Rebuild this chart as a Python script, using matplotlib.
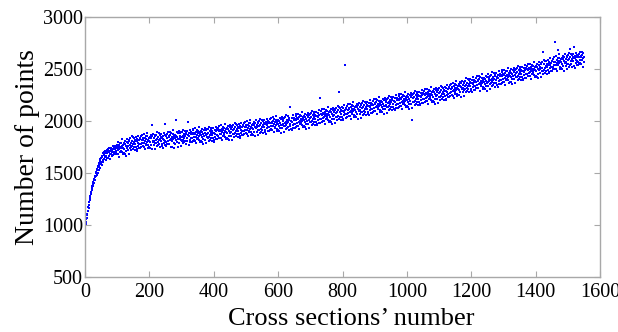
import numpy as np
import matplotlib
matplotlib.use("Agg")
import matplotlib.pyplot as plt

# Number of points per cross section (sections 1..1550), read row by row (10 per row)
points_rows = [
    [985, 1010, 1025, 1060, 1068, 1098, 1105, 1138, 1130, 1172],
    [1190, 1165, 1222, 1240, 1238, 1282, 1255, 1310, 1322, 1300],
    [1352, 1372, 1340, 1398, 1410, 1372, 1432, 1445, 1402, 1462],
    [1470, 1435, 1498, 1468, 1512, 1530, 1478, 1540, 1555, 1502],
    [1566, 1580, 1530, 1600, 1562, 1615, 1548, 1630, 1590, 1640],
    [1605, 1655, 1578, 1668, 1622, 1688, 1610, 1672, 1702, 1635],
    [1692, 1655, 1715, 1625, 1708, 1662, 1722, 1640, 1696, 1718],
    [1648, 1708, 1728, 1665, 1700, 1738, 1635, 1712, 1680, 1730],
    [1685, 1745, 1660, 1725, 1700, 1758, 1672, 1732, 1692, 1750],
    [1702, 1680, 1762, 1730, 1690, 1750, 1708, 1772, 1684, 1740],
    [1747, 1679, 1800, 1718, 1769, 1656, 1734, 1787, 1698, 1752],
    [1716, 1787, 1736, 1823, 1700, 1755, 1680, 1774, 1745, 1688],
    [1788, 1735, 1684, 1778, 1810, 1714, 1762, 1668, 1800, 1745],
    [1752, 1829, 1720, 1785, 1761, 1807, 1685, 1817, 1740, 1774],
    [1832, 1748, 1793, 1720, 1853, 1758, 1811, 1730, 1777, 1843],
    [1749, 1795, 1837, 1718, 1816, 1779, 1847, 1753, 1804, 1731],
    [1804, 1715, 1830, 1793, 1764, 1860, 1740, 1815, 1776, 1836],
    [1738, 1826, 1775, 1852, 1751, 1816, 1868, 1787, 1756, 1832],
    [1819, 1751, 1872, 1790, 1841, 1728, 1806, 1859, 1770, 1824],
    [1781, 1852, 1801, 1888, 1765, 1820, 1745, 1839, 1810, 1753],
    [1847, 1794, 1743, 1837, 1869, 1773, 1962, 1727, 1859, 1804],
    [1800, 1877, 1768, 1833, 1809, 1855, 1733, 1865, 1788, 1822],
    [1869, 1785, 1830, 1757, 1890, 1795, 1848, 1767, 1814, 1880],
    [1778, 1824, 1866, 1747, 1845, 1808, 1876, 1782, 1833, 1760],
    [1831, 1742, 1857, 1820, 1791, 1887, 1767, 1975, 1803, 1863],
    [1763, 1851, 1800, 1877, 1776, 1841, 1893, 1812, 1781, 1857],
    [1843, 1775, 1896, 1814, 1865, 1752, 1830, 1883, 1748, 1848],
    [1804, 1875, 1824, 1911, 1788, 1843, 1745, 1862, 1833, 1776],
    [1870, 1817, 2008, 1860, 1892, 1796, 1844, 1750, 1882, 1827],
    [1825, 1902, 1793, 1858, 1834, 1880, 1758, 1890, 1813, 1847],
    [1896, 1812, 1857, 1784, 1917, 1822, 1875, 1794, 1841, 1907],
    [1807, 1853, 1895, 1776, 1874, 1837, 1905, 1811, 1862, 1990],
    [1862, 1773, 1888, 1851, 1822, 1918, 1798, 1873, 1834, 1894],
    [1795, 1883, 1832, 1909, 1808, 1873, 1925, 1844, 1813, 1889],
    [1875, 1807, 1928, 1846, 1897, 1784, 1862, 1915, 1826, 1880],
    [1835, 1906, 1855, 1942, 1819, 1874, 1799, 1893, 1864, 1807],
    [1900, 1847, 1796, 1890, 1922, 1826, 1874, 1780, 1912, 1857],
    [1854, 1931, 1822, 1887, 1863, 1909, 1787, 1919, 1842, 1876],
    [1924, 1840, 1885, 1812, 1945, 1850, 1903, 1822, 1869, 1935],
    [1834, 1880, 1922, 1803, 1901, 1864, 1932, 1838, 1889, 1816],
    [1889, 1800, 1915, 1878, 1849, 1945, 1825, 1900, 1861, 1921],
    [1823, 1911, 1860, 1937, 1836, 1901, 1953, 1872, 1841, 1917],
    [1904, 1836, 1957, 1875, 1926, 1813, 1891, 1944, 1855, 1909],
    [1866, 1937, 1886, 1973, 1850, 1905, 1830, 1924, 1895, 1838],
    [1933, 1880, 1829, 1923, 1955, 1859, 1907, 1813, 1945, 1890],
    [1889, 1966, 1857, 1922, 1898, 1944, 1822, 1954, 1877, 1911],
    [1961, 1877, 1922, 1849, 1982, 1887, 1940, 1859, 1906, 1972],
    [1873, 1919, 1961, 1842, 1940, 1903, 1971, 1877, 1928, 1855],
    [1929, 1840, 1955, 1918, 1889, 1985, 1865, 1940, 1901, 1961],
    [1863, 1951, 1900, 1977, 1876, 1941, 1993, 1912, 1881, 1957],
    [1944, 1876, 1997, 1915, 1966, 1853, 1931, 1984, 1895, 1949],
    [1906, 1977, 1926, 2013, 1890, 1945, 1870, 1964, 1935, 1878],
    [1973, 1920, 1869, 1963, 1995, 1899, 1947, 1853, 1985, 1930],
    [1929, 2006, 1897, 1962, 1938, 1984, 1862, 1994, 1917, 1951],
    [2001, 1917, 1962, 1889, 2022, 1927, 1980, 1899, 1946, 2012],
    [1913, 1959, 2001, 1882, 1980, 1943, 2011, 1917, 1968, 1895],
    [1968, 1879, 1994, 1957, 1928, 2024, 1904, 1979, 1940, 2000],
    [1901, 1989, 1938, 2015, 1914, 1979, 2031, 1950, 1919, 1995],
    [1981, 1913, 2034, 1952, 2003, 1890, 1968, 2021, 1932, 1986],
    [1942, 2013, 1962, 2049, 1926, 1981, 1906, 2000, 1971, 1914],
    [2008, 1955, 1904, 1998, 2030, 1934, 1982, 1888, 2020, 1965],
    [1963, 2040, 1931, 1996, 1972, 2018, 1896, 2028, 1951, 1985],
    [2034, 1950, 1995, 1922, 2055, 1960, 2013, 1932, 1979, 2045],
    [1945, 1991, 2033, 1914, 2012, 1975, 2138, 1949, 2000, 1927],
    [2000, 1911, 2026, 1989, 1960, 2056, 1936, 2011, 1972, 2032],
    [1934, 2022, 1971, 2048, 1947, 2012, 2064, 1983, 1952, 2028],
    [2016, 1948, 2069, 1987, 2038, 1925, 2003, 2056, 1967, 2021],
    [1979, 2050, 1999, 2086, 1963, 2018, 1943, 2037, 2008, 1951],
    [2047, 1994, 1943, 2037, 2069, 1973, 2021, 1927, 2059, 2004],
    [2004, 2081, 1972, 2037, 2013, 2059, 1937, 2069, 1992, 2026],
    [2077, 1993, 2038, 1965, 2098, 2003, 2056, 1975, 2022, 2088],
    [1990, 2036, 2078, 1959, 2057, 2020, 2088, 1994, 2045, 1972],
    [2047, 1958, 2073, 2036, 2007, 2103, 1983, 2058, 2019, 2220],
    [1982, 2070, 2019, 2096, 1995, 2060, 2112, 2031, 2000, 2076],
    [2064, 1996, 2117, 2035, 2086, 1973, 2051, 2104, 2015, 2069],
    [2027, 2098, 2047, 2134, 2011, 2066, 1991, 2085, 2056, 1999],
    [2095, 2042, 1991, 2085, 2117, 2021, 2069, 1975, 2107, 2052],
    [2052, 2129, 2020, 2085, 2061, 2107, 1985, 2117, 2040, 2074],
    [2125, 2041, 2086, 2013, 2146, 2051, 2104, 2023, 2276, 2136],
    [2038, 2084, 2126, 2007, 2105, 2068, 2136, 2042, 2093, 2020],
    [2095, 2006, 2121, 2084, 2055, 2151, 2540, 2106, 2067, 2127],
    [2030, 2118, 2067, 2144, 2043, 2108, 2160, 2079, 2048, 2124],
    [2112, 2044, 2165, 2083, 2134, 2021, 2099, 2152, 2063, 2117],
    [2075, 2146, 2095, 2182, 2059, 2114, 2039, 2133, 2104, 2047],
    [2143, 2090, 2039, 2133, 2165, 2069, 2117, 2023, 2155, 2100],
    [2100, 2177, 2068, 2133, 2109, 2155, 2033, 2165, 2088, 2122],
    [2173, 2089, 2134, 2061, 2194, 2099, 2152, 2071, 2118, 2184],
    [2086, 2132, 2174, 2055, 2153, 2116, 2184, 2090, 2141, 2068],
    [2143, 2054, 2169, 2132, 2103, 2199, 2079, 2154, 2115, 2175],
    [2078, 2166, 2115, 2192, 2091, 2156, 2208, 2127, 2096, 2172],
    [2160, 2092, 2213, 2131, 2182, 2069, 2147, 2200, 2111, 2165],
    [2123, 2194, 2143, 2230, 2107, 2162, 2087, 2181, 2152, 2095],
    [2191, 2138, 2087, 2181, 2213, 2117, 2165, 2071, 2203, 2148],
    [2148, 2225, 2116, 2181, 2157, 2203, 2081, 2213, 2136, 2170],
    [2221, 2137, 2182, 2109, 2242, 2147, 2200, 2119, 2166, 2232],
    [2134, 2180, 2222, 2103, 2201, 2164, 2232, 2138, 2189, 2116],
    [2191, 2102, 2217, 2180, 2151, 2247, 2127, 2202, 2163, 2223],
    [2126, 2214, 2163, 2240, 2139, 2204, 2256, 2175, 2144, 2220],
    [2208, 2140, 2261, 2179, 2230, 2117, 2195, 2248, 2159, 2213],
    [2171, 2242, 2191, 2278, 2155, 2210, 2135, 2229, 2200, 2143],
    [2239, 2186, 2135, 2229, 2261, 2165, 2213, 2119, 2251, 2196],
    [2196, 2273, 2164, 2229, 2010, 2251, 2129, 2261, 2184, 2218],
    [2269, 2185, 2230, 2157, 2290, 2195, 2248, 2167, 2214, 2280],
    [2182, 2228, 2270, 2151, 2249, 2212, 2280, 2186, 2237, 2164],
    [2239, 2150, 2265, 2228, 2199, 2295, 2175, 2250, 2211, 2271],
    [2174, 2262, 2211, 2288, 2187, 2252, 2304, 2223, 2192, 2268],
    [2256, 2188, 2309, 2227, 2278, 2165, 2243, 2296, 2207, 2261],
    [2219, 2290, 2239, 2326, 2203, 2258, 2183, 2277, 2248, 2191],
    [2287, 2234, 2183, 2277, 2309, 2213, 2261, 2167, 2299, 2244],
    [2244, 2321, 2212, 2277, 2253, 2299, 2177, 2309, 2232, 2266],
    [2318, 2234, 2279, 2206, 2339, 2244, 2297, 2216, 2263, 2329],
    [2233, 2279, 2321, 2202, 2300, 2263, 2331, 2237, 2288, 2215],
    [2292, 2203, 2318, 2281, 2252, 2348, 2228, 2303, 2264, 2324],
    [2229, 2317, 2266, 2343, 2242, 2307, 2359, 2278, 2247, 2323],
    [2313, 2245, 2366, 2284, 2335, 2222, 2300, 2353, 2264, 2318],
    [2279, 2350, 2299, 2386, 2263, 2318, 2243, 2337, 2308, 2251],
    [2351, 2298, 2247, 2341, 2373, 2277, 2325, 2231, 2363, 2308],
    [2312, 2389, 2280, 2345, 2321, 2367, 2245, 2377, 2300, 2334],
    [2389, 2305, 2350, 2277, 2410, 2315, 2368, 2287, 2334, 2400],
    [2306, 2352, 2394, 2275, 2373, 2336, 2404, 2310, 2361, 2288],
    [2365, 2276, 2391, 2354, 2325, 2421, 2301, 2376, 2337, 2397],
    [2300, 2388, 2337, 2414, 2313, 2378, 2430, 2349, 2318, 2394],
    [2382, 2314, 2435, 2353, 2404, 2291, 2369, 2422, 2333, 2387],
    [2345, 2416, 2365, 2452, 2329, 2384, 2309, 2403, 2374, 2317],
    [2413, 2360, 2309, 2403, 2435, 2339, 2387, 2293, 2425, 2370],
    [2371, 2448, 2339, 2404, 2380, 2426, 2304, 2436, 2359, 2393],
    [2446, 2362, 2407, 2334, 2467, 2372, 2425, 2344, 2391, 2457],
    [2361, 2407, 2449, 2330, 2428, 2391, 2459, 2365, 2416, 2343],
    [2420, 2331, 2446, 2409, 2380, 2476, 2356, 2431, 2392, 2452],
    [2357, 2445, 2394, 2471, 2370, 2435, 2487, 2406, 2375, 2451],
    [2441, 2373, 2494, 2412, 2463, 2350, 2428, 2481, 2392, 2446],
    [2406, 2477, 2426, 2513, 2390, 2445, 2370, 2464, 2435, 2378],
    [2476, 2423, 2372, 2466, 2498, 2402, 2450, 2356, 2488, 2433],
    [2435, 2512, 2403, 2468, 2444, 2490, 2368, 2500, 2423, 2457],
    [2510, 2426, 2471, 2398, 2531, 2436, 2489, 2408, 2455, 2521],
    [2423, 2469, 2511, 2392, 2490, 2453, 2521, 2427, 2478, 2405],
    [2480, 2391, 2506, 2469, 2440, 2536, 2416, 2491, 2452, 2512],
    [2415, 2503, 2452, 2529, 2428, 2493, 2545, 2464, 2433, 2509],
    [2497, 2429, 2550, 2468, 2519, 2406, 2484, 2537, 2448, 2502],
    [2460, 2531, 2480, 2567, 2444, 2499, 2424, 2518, 2489, 2432],
    [2530, 2477, 2426, 2520, 2552, 2456, 2504, 2410, 2542, 2487],
    [2491, 2568, 2459, 2524, 2500, 2546, 2424, 2556, 2479, 2513],
    [2568, 2484, 2660, 2456, 2589, 2494, 2547, 2466, 2513, 2579],
    [2485, 2531, 2573, 2454, 2552, 2515, 2583, 2489, 2540, 2467],
    [2546, 2457, 2572, 2535, 2506, 2602, 2482, 2557, 2518, 2578],
    [2485, 2573, 2522, 2599, 2498, 2563, 2615, 2534, 2503, 2757],
    [2569, 2501, 2622, 2540, 2591, 2478, 2556, 2609, 2683, 2574],
    [2534, 2605, 2554, 2641, 2518, 2573, 2498, 2592, 2563, 2506],
    [2604, 2551, 2500, 2594, 2626, 2530, 2578, 2484, 2616, 2561],
    [2563, 2640, 2531, 2596, 2572, 2618, 2496, 2628, 2551, 2585],
    [2636, 2552, 2597, 2524, 2657, 2690, 2615, 2534, 2581, 2647],
    [2547, 2593, 2635, 2516, 2614, 2577, 2645, 2710, 2602, 2529],
    [2602, 2513, 2628, 2591, 2562, 2658, 2538, 2613, 2574, 2634],
    [2535, 2623, 2572, 2649, 2548, 2613, 2665, 2584, 2553, 2629],
    [2615, 2547, 2668, 2586, 2637, 2524, 2602, 2655, 2566, 2620],
]

x_ticks = [0, 200, 400, 600, 800, 1000, 1200, 1400, 1600]
y_ticks = [500, 1000, 1500, 2000, 2500, 3000]
x_label = "Cross sections\u2019 number"
y_label = "Number of points"

points = [v for row in points_rows for v in row]
sections = np.arange(1, len(points) + 1)

plt.rcParams['font.family'] = ['Liberation Serif', 'DejaVu Serif']

fig = plt.figure(figsize=(6.18, 3.32), dpi=100)
ax = fig.add_axes([85 / 618, 1 - 277 / 332, 515 / 618, 260 / 332])

ax.plot(sections, points, linestyle='none', marker='s', markersize=1.6,
        color='#0000ff', markeredgewidth=0)

ax.set_xlim(0, 1600)
ax.set_ylim(500, 3000)
ax.set_xticks(x_ticks)
ax.set_yticks(y_ticks)
ax.set_xticklabels([str(t) for t in x_ticks])
ax.set_yticklabels([str(t) for t in y_ticks])

spine_color = '#a8a8a8'
for s in ax.spines.values():
    s.set_color(spine_color)
    s.set_linewidth(1.0)
ax.tick_params(direction='in', length=4, width=0.8, color=spine_color,
               top=True, right=True, labelsize=14.5, labelcolor='black')
ax.tick_params(axis='y', pad=1.5)
ax.tick_params(axis='x', pad=4)

ax.set_xlabel(x_label, fontsize=19)
ax.set_ylabel(y_label, fontsize=20)
ax.xaxis.label.set_verticalalignment('baseline')
ax.xaxis.set_label_coords((351 - 85) / 515, -(325 - 277) / 260)
ax.yaxis.set_label_coords(-(85 - 34) / 515, 0.5)
ax.yaxis.label.set_verticalalignment('baseline')

fig.savefig("out.png", dpi=100, facecolor='white')
